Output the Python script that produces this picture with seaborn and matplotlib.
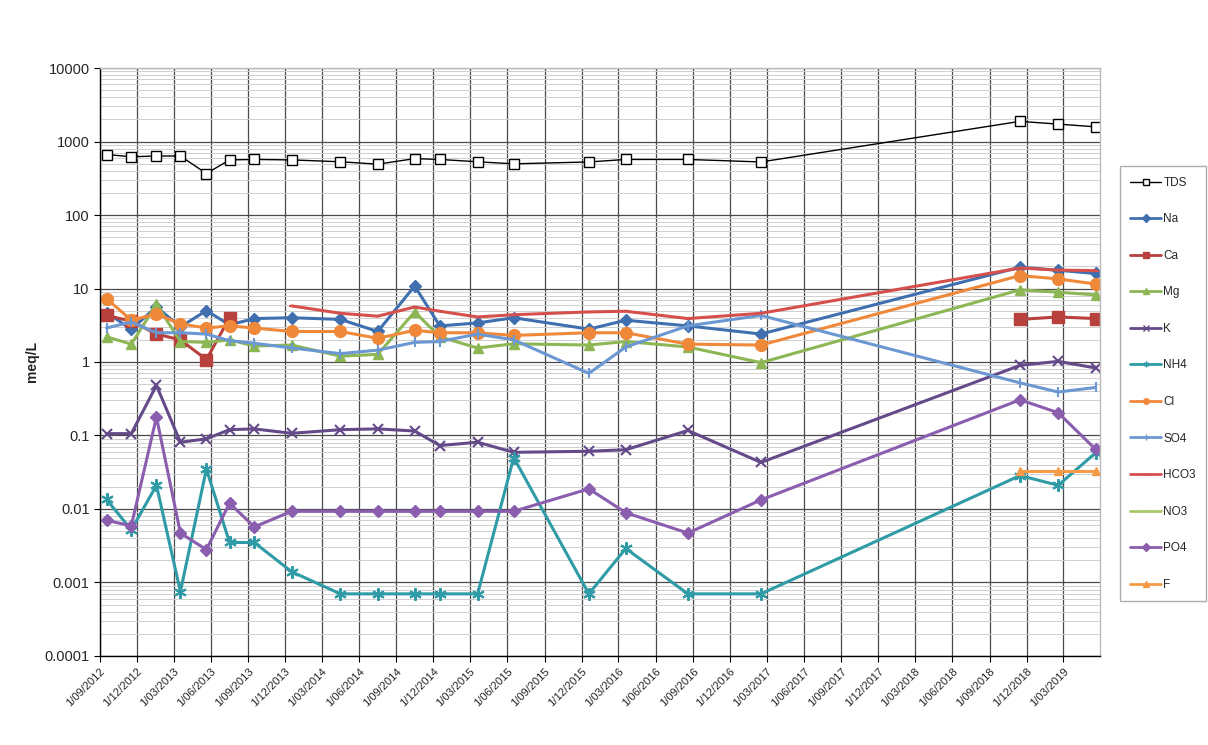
#!/usr/bin/env python3
"""
Water chemistry time series (meq/L) on a log scale
"""

import numpy as np
import pandas as pd
import matplotlib
matplotlib.use('Agg')
import matplotlib.pyplot as plt
from matplotlib.lines import Line2D
from matplotlib.ticker import FixedLocator, FuncFormatter, LogLocator, NullFormatter
import seaborn as sns

nan = np.nan

# Sampling dates
sample_dates = ['2012-09-17', '2012-11-17', '2013-01-18', '2013-03-18', '2013-05-21',
                '2013-07-17', '2013-09-16', '2013-12-17', '2014-04-16', '2014-07-17',
                '2014-10-16', '2014-12-17', '2015-03-20', '2015-06-17', '2015-12-19',
                '2016-03-19', '2016-08-19', '2017-02-15', '2018-11-15', '2019-02-17',
                '2019-05-20']

# Values (meq/L, TDS in mg/L)
tds = [665, 620, 635, 635, 367, 562, 570, 562, 530, 492, 585, 570, 530, 497, 527,
       570, 570, 527, 1880, 1725, 1585]
na = [4.7, 2.8, 5.6, 3.0, 5.0, 3.2, 3.9, 4.0, 3.8, 2.6, 10.8, 3.1, 3.4, 4.0, 2.8,
      3.7, 3.1, 2.4, 19.5, 17.7, 16.0]
ca = [4.3, 3.6, 2.4, 2.0, 1.08, 4.0, nan, nan, nan, nan, nan, nan, nan, nan, nan,
      nan, nan, nan, 3.8, 4.1, 3.9]
mg = [2.2, 1.75, 6.1, 1.9, 1.85, 2.0, 1.65, 1.7, 1.2, 1.27, 4.8, 2.2, 1.55, 1.77, 1.7,
      1.9, 1.6, 0.98, 9.6, 8.9, 8.2]
k = [0.106, 0.106, 0.48, 0.081, 0.09, 0.12, 0.123, 0.107, 0.12, 0.123, 0.115, 0.073,
     0.081, 0.059, 0.061, 0.064, 0.117, 0.043, 0.9, 1.02, 0.83]
nh4 = [0.0135, 0.0052, 0.021, 0.00075, 0.035, 0.0035, 0.0035, 0.0014, 0.0007, 0.0007,
       0.0007, 0.0007, 0.0007, 0.05, 0.0007, 0.0029, 0.0007, 0.0007, 0.0285, 0.021, 0.058]
cl = [7.3, 3.7, 4.5, 3.3, 2.9, 3.1, 2.9, 2.6, 2.6, 2.1, 2.7, 2.5, 2.5, 2.3, 2.5,
      2.5, 1.75, 1.7, 15.0, 13.5, 11.5]
so4 = [2.9, 3.5, 2.5, 2.5, 2.4, 1.95, 1.8, 1.55, 1.3, 1.45, 1.85, 1.9, 2.4, 2.0, 0.7,
       1.6, 3.1, 4.3, 0.52, 0.39, 0.45]
hco3 = [nan, nan, nan, nan, nan, nan, nan, 5.8, 4.6, 4.2, 5.6, 4.9, 4.1, 4.4, 4.8,
        4.9, 3.9, 4.6, 19.0, 17.8, 17.5]
no3 = [nan] * 21
po4 = [0.007, 0.0059, 0.178, 0.0047, 0.0028, 0.012, 0.0057, 0.0093, 0.0093, 0.0093,
       0.0093, 0.0093, 0.0093, 0.0093, 0.0188, 0.0089, 0.0047, 0.0133, 0.306, 0.204, 0.065]
f = [nan] * 18 + [0.033, 0.033, 0.033]

series_names = ['TDS', 'Na', 'Ca', 'Mg', 'K', 'NH4', 'Cl', 'SO4', 'HCO3', 'NO3', 'PO4', 'F']
series_values = [tds, na, ca, mg, k, nh4, cl, so4, hco3, no3, po4, f]

# Line styles (colour, marker, marker size, line width)
styles = {
    'TDS':  dict(color='black', marker='s', ms=6.5, lw=1.0, mfc='white'),
    'Na':   dict(color='#3F6FAF', marker='D', ms=6.5, lw=2.2),
    'Ca':   dict(color='#B8403D', marker='s', ms=8, lw=2.2),
    'Mg':   dict(color='#8DB654', marker='^', ms=7, lw=2.2),
    'K':    dict(color='#654A8A', marker='x', ms=7, lw=2.2),
    'NH4':  dict(color='#2E9BA6', marker=(6, 2, 0), ms=9, lw=2.2),
    'Cl':   dict(color='#F0883A', marker='o', ms=8.5, lw=2.2),
    'SO4':  dict(color='#6B98D2', marker='|', ms=7, lw=2.2),
    'HCO3': dict(color='#D5504C', marker='_', ms=5, lw=2.2),
    'NO3':  dict(color='#A9C76D', marker='_', ms=5, lw=2.2),
    'PO4':  dict(color='#8A5DAE', marker='D', ms=6, lw=2.2),
    'F':    dict(color='#F79A48', marker='^', ms=6, lw=2.2),
}

sns.set_style('white')
plt.rcParams['font.family'] = ['Liberation Sans', 'DejaVu Sans']


def plot_series(ax, name, values):
    """Draw one series, breaking the line where values are missing"""
    st = styles[name]
    df = pd.DataFrame({'date': pd.to_datetime(sample_dates), 'value': values}).dropna()
    if df.empty:
        return
    df['seg'] = (df.index.to_series().diff() != 1).cumsum()
    thin_marker = st['marker'] in ('x', '|', '_') or isinstance(st['marker'], tuple)
    sns.lineplot(data=df, x='date', y='value', units='seg', estimator=None, sort=False,
                 color=st['color'], linewidth=st['lw'], marker=st['marker'],
                 markersize=st['ms'], markeredgecolor=st['color'],
                 markerfacecolor=st.get('mfc', st['color']),
                 markeredgewidth=1.5 if thin_marker else 1.0,
                 legend=False, ax=ax)


fig = plt.figure(figsize=(12.08, 7.45), dpi=100)
ax = fig.add_axes([0.0828, 0.1195, 0.8278, 0.7892])
ax.set_yscale('log')

for name, values in zip(series_names, series_values):
    plot_series(ax, name, values)

# Y axis
ax.set_ylim(1e-4, 1e4)
ax.yaxis.set_major_locator(LogLocator(base=10, numticks=20))
ax.yaxis.set_major_formatter(FuncFormatter(lambda v, p: f'{v:g}'))
ax.yaxis.set_minor_locator(LogLocator(base=10, subs=np.arange(2, 10), numticks=100))
ax.yaxis.set_minor_formatter(NullFormatter())
ax.set_ylabel('meq/L', fontweight='bold', fontsize=10)
ax.set_xlabel('')

# X axis: every three months
tick_dates = pd.date_range('2012-09-01', '2019-03-01', freq='3MS')
ax.set_xlim(pd.Timestamp('2012-09-01'), pd.Timestamp('2019-05-31'))
ax.xaxis.set_major_locator(FixedLocator(matplotlib.dates.date2num(tick_dates)))
ax.set_xticklabels([f'{d.day}/{d.month:02d}/{d.year}' for d in tick_dates],
                   rotation=45, ha='right', rotation_mode='anchor', fontsize=8)

ax.tick_params(axis='y', which='major', labelsize=10.5, length=4, direction='out', left=True, color='black')
ax.tick_params(axis='x', which='major', length=4, direction='out', bottom=True, color='black')
ax.tick_params(axis='y', which='minor', length=0)

# Grid
ax.set_axisbelow(True)
ax.grid(which='major', axis='both', color='#4A4A4A', linewidth=0.9)
ax.grid(which='minor', axis='y', color='#CFCFCF', linewidth=0.7)

for side in ['left', 'bottom']:
    ax.spines[side].set_color('black')
    ax.spines[side].set_linewidth(1.0)
for side in ['top', 'right']:
    ax.spines[side].set_color('#BBBBBB')
    ax.spines[side].set_linewidth(1.0)

# Legend
handles = []
for name in series_names:
    st = styles[name]
    handles.append(Line2D([], [], color=st['color'], lw=1.0 if name == 'TDS' else 2.0,
                          marker=st['marker'], markersize=4,
                          markeredgecolor=st['color'],
                          markerfacecolor=st.get('mfc', st['color'])))
leg = fig.legend(handles, series_names, loc='upper left', bbox_to_anchor=(0.922, 0.785),
                 frameon=True, fancybox=False, edgecolor='#999999', fontsize=8.5,
                 labelspacing=2.08, handlelength=2.6, handletextpad=0.2, borderpad=0.9)
leg.get_frame().set_linewidth(1.0)

fig.savefig('out.png', dpi=100)
plt.close(fig)
